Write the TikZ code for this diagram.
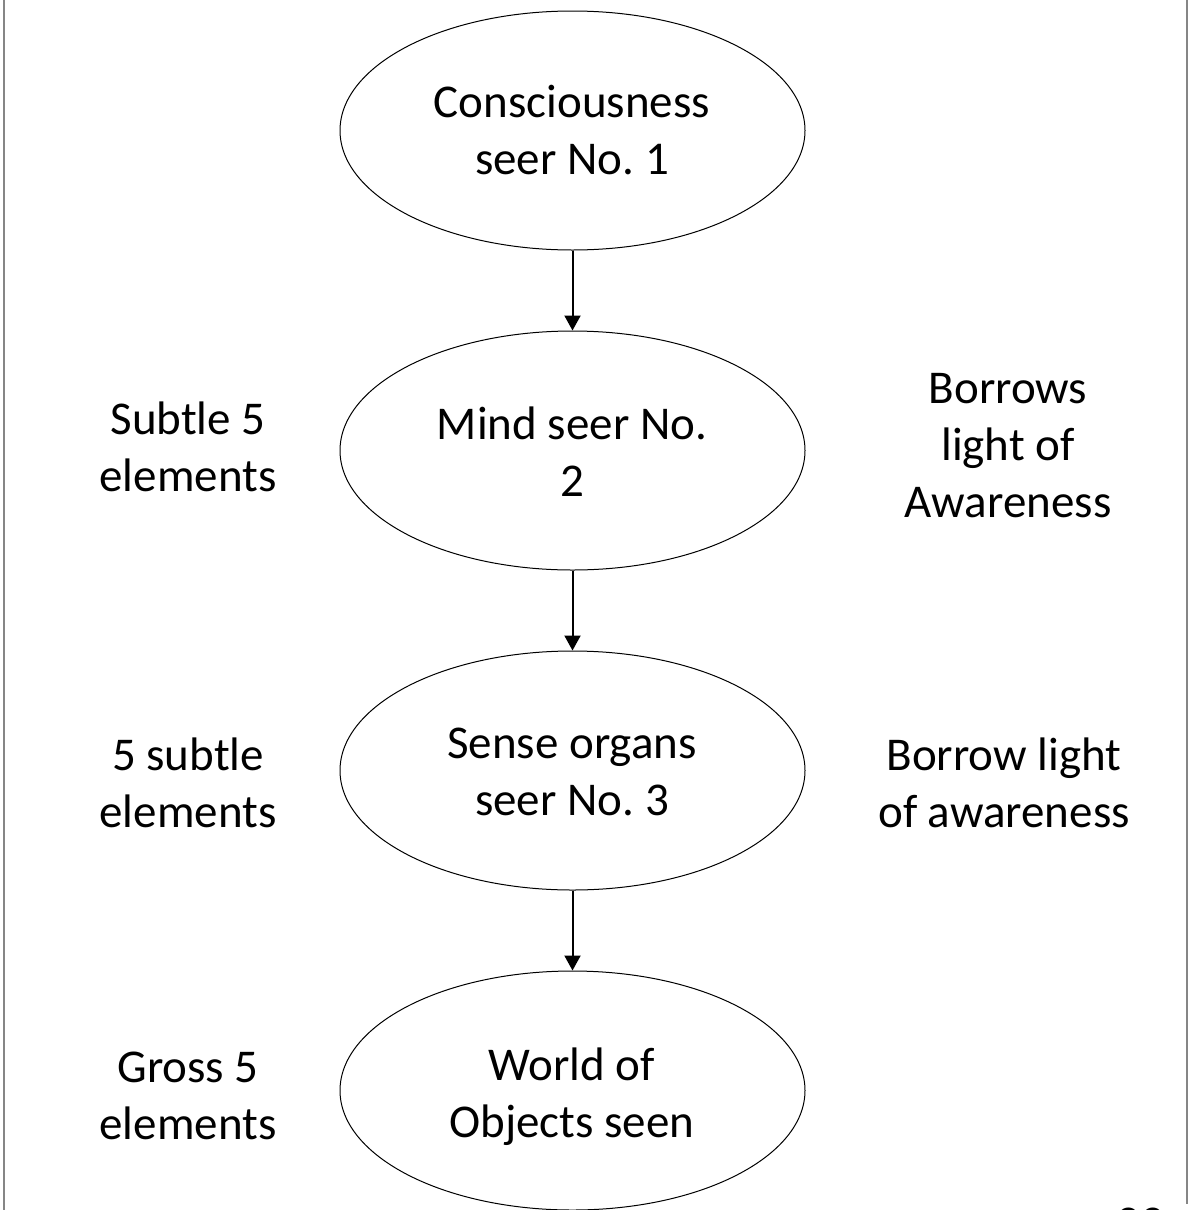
\documentclass[tikz,border=0pt]{standalone}
\usepackage{fontspec}
\setmainfont{Carlito}
\frenchspacing
\usetikzlibrary{shapes.geometric,arrows.meta}
\begin{document}
\begin{tikzpicture}[x=1pt,y=-1pt,
  seer/.style={draw=black,line width=1pt,ellipse,minimum width=465pt,minimum height=239pt,inner sep=0pt},
  txt/.style={align=center,anchor=base,inner sep=0pt,font=\fontsize{47pt}{57pt}\selectfont},
  flow/.style={-{Triangle[width=16pt,length=15pt]},line width=2pt},
  edge/.style={draw=gray!95,line width=2pt}]
\useasboundingbox (0,0) rectangle (1192,1210);
\clip (0,0) rectangle (1192,1210);
% side rules
\coordinate (lt) at (4,0);
\coordinate (lb) at (4,1210);
\coordinate (rt) at (1187,0);
\coordinate (rb) at (1187,1204);
\draw[edge] (lt) -- (lb);
\draw[edge] (rt) -- (rb);
% the four seers (text nodes are placed by the baseline of their last line)
\node[seer] (e1) at (572.5,130.5) {};
\node[seer] (e2) at (572.5,450.5) {};
\node[seer] (e3) at (572.5,770.5) {};
\node[seer] (e4) at (572.5,1090.5) {};
\node[txt] (t1) at (572,174) {Consciousness\\seer No. 1};
\node[txt] (t2) at (572,496) {Mind seer No.\\2};
\node[txt] (t3) at (572,815) {Sense organs\\seer No. 3};
\node[txt] (t4) at (572,1137) {World of\\Objects seen};
% arrows between the seers
\draw[flow] (e1.south) -- (e2.north);
\draw[flow] (e2.south) -- (e3.north);
\draw[flow] (e3.south) -- (e4.north);
% elements on the left
\node[txt] (l2) at (188,491) {Subtle 5\\elements};
\node[txt] (l3) at (188,827) {5 subtle\\elements};
\node[txt] (l4) at (188,1139) {Gross 5\\elements};
% borrowed light on the right
\node[txt] (r2) at (1008,517) {Borrows\\light of\\Awareness};
\node[txt] (r3) at (1004,827) {Borrow light\\of awareness};
% slide number
\node[txt] (pg) at (1140,1238) {23};
\end{tikzpicture}
\end{document}
